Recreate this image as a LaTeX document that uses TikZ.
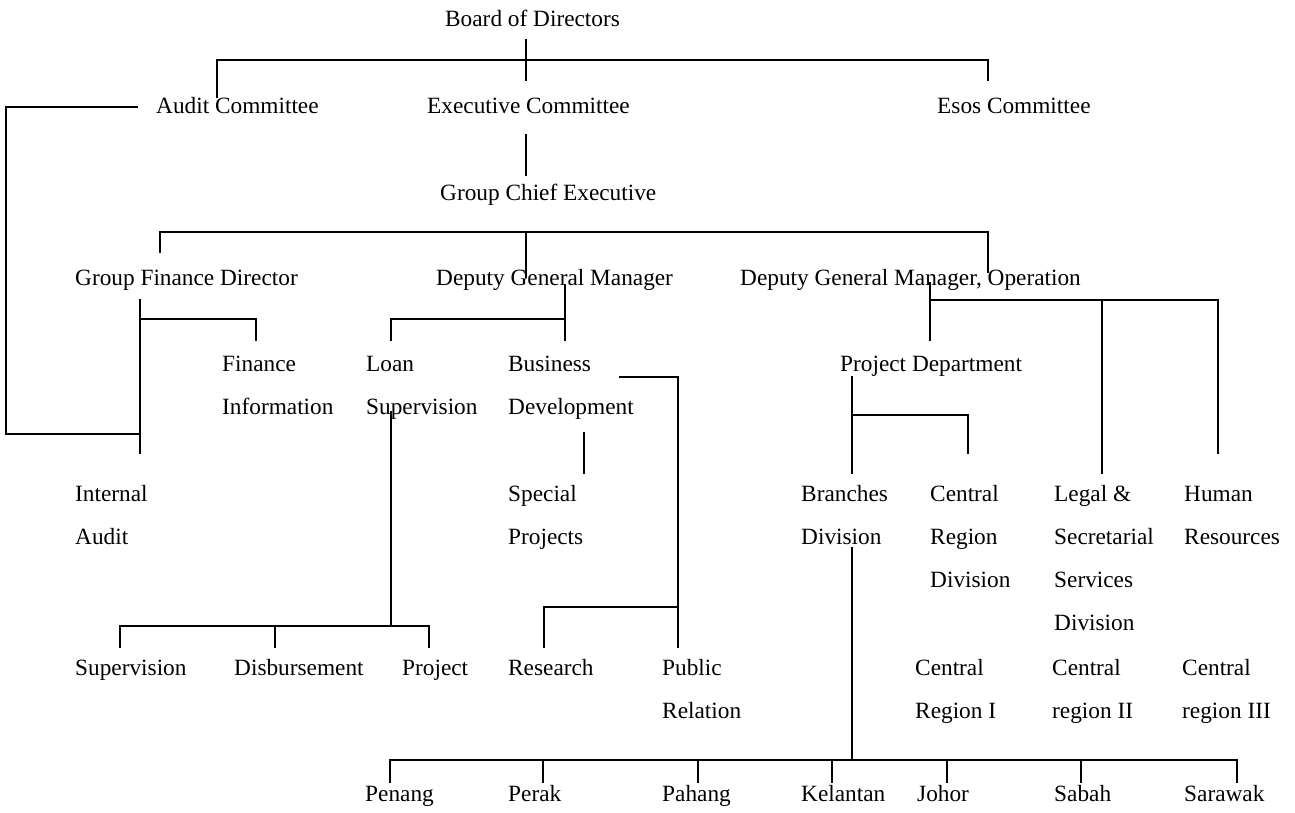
\documentclass[tikz,border=0pt]{standalone}
\usepackage{fontspec}
\setmainfont{Liberation Serif}
\begin{document}
\begin{tikzpicture}[x=1pt,y=-1pt,
  lbl/.style={anchor=base west, inner sep=0pt, align=left, font=\fontsize{23.3}{43}\selectfont},
  conn/.style={line width=2.8pt, line cap=rect}]
\useasboundingbox (0,0) rectangle (1295,812);
% ---- text nodes (base west = baseline of the last line) ----
\node[lbl] (board) at (445,26) {Board of Directors};
\node[lbl] (audit) at (156,113) {Audit Committee};
\node[lbl] (exec) at (427,113) {Executive Committee};
\node[lbl] (esos) at (937,113) {Esos Committee};
\node[lbl] (gce) at (440,200) {Group Chief Executive};
\node[lbl] (gfd) at (75,285) {Group Finance Director};
\node[lbl] (dgm) at (436,285) {Deputy General Manager};
\node[lbl] (dgmo) at (740,285) {Deputy General Manager, Operation};
\node[lbl] (fin) at (222,414) {Finance\\Information};
\node[lbl] (loan) at (366,414) {Loan\\Supervision};
\node[lbl] (bus) at (508,414) {Business\\Development};
\node[lbl] (pd) at (840,371) {Project Department};
\node[lbl] (ia) at (75,544) {Internal\\Audit};
\node[lbl] (sp) at (508,544) {Special\\Projects};
\node[lbl] (br) at (801,544) {Branches\\Division};
\node[lbl] (crd) at (930,587) {Central\\Region\\Division};
\node[lbl] (legal) at (1054,630) {Legal \&\\Secretarial\\Services\\Division};
\node[lbl] (hr) at (1184,544) {Human\\Resources};
\node[lbl] (sup) at (75,675) {Supervision};
\node[lbl] (dis) at (234,675) {Disbursement};
\node[lbl] (proj) at (402,675) {Project};
\node[lbl] (res) at (508,675) {Research};
\node[lbl] (pr) at (662,718) {Public\\Relation};
\node[lbl] (cr1) at (915,718) {Central\\Region I};
\node[lbl] (cr2) at (1052,718) {Central\\region II};
\node[lbl] (cr3) at (1182,718) {Central\\region III};
\node[lbl] (pen) at (365,801) {Penang};
\node[lbl] (per) at (508,801) {Perak};
\node[lbl] (pah) at (662,801) {Pahang};
\node[lbl] (kel) at (801,801) {Kelantan};
\node[lbl] (joh) at (917,801) {Johor};
\node[lbl] (sab) at (1054,801) {Sabah};
\node[lbl] (sar) at (1184,801) {Sarawak};
% ---- connector points ----
\coordinate (b1) at (526,40); \coordinate (b2) at (526,80);
\coordinate (t1) at (217,97); \coordinate (t2) at (217,60);
\coordinate (t3) at (988,60); \coordinate (t4) at (988,80);
\coordinate (a1) at (137,107); \coordinate (a2) at (6,107);
\coordinate (a3) at (6,434); \coordinate (a4) at (140,434);
\coordinate (g1) at (140,300); \coordinate (g2) at (140,453);
\coordinate (f1) at (140,319); \coordinate (f2) at (256,319); \coordinate (f3) at (256,340);
\coordinate (e1) at (526,135); \coordinate (e2) at (526,175);
\coordinate (s1) at (160,252); \coordinate (s2) at (160,232);
\coordinate (s3) at (988,232); \coordinate (s4) at (988,272);
\coordinate (s5) at (526,232); \coordinate (s6) at (526,277);
\coordinate (d1) at (565,285); \coordinate (d2) at (565,340);
\coordinate (d3) at (565,319); \coordinate (d4) at (391,319); \coordinate (d5) at (391,340);
\coordinate (o1) at (930,283); \coordinate (o2) at (930,340);
\coordinate (o3) at (930,300); \coordinate (o4) at (1218,300); \coordinate (o5) at (1218,453);
\coordinate (o6) at (1102,300); \coordinate (o7) at (1102,473);
\coordinate (p1) at (852,377); \coordinate (p2) at (852,473);
\coordinate (p3) at (852,415); \coordinate (p4) at (968,415); \coordinate (p5) at (968,453);
\coordinate (u1) at (620,377); \coordinate (u2) at (678,377); \coordinate (u3) at (678,647);
\coordinate (u4) at (678,607); \coordinate (u5) at (544,607); \coordinate (u6) at (544,647);
\coordinate (v1) at (584,433); \coordinate (v2) at (584,473);
\coordinate (l1) at (391,412); \coordinate (l2) at (391,626);
\coordinate (l3) at (120,647); \coordinate (l4) at (120,626);
\coordinate (l5) at (429,626); \coordinate (l6) at (429,647);
\coordinate (l7) at (275,626); \coordinate (l8) at (275,647);
\coordinate (r1) at (852,548); \coordinate (r2) at (852,760);
\coordinate (r3) at (390,782); \coordinate (r4) at (390,760);
\coordinate (r5) at (1237,760); \coordinate (r6) at (1237,782);
\foreach \x in {543,698,832,947,1081} {\coordinate (rd\x) at (\x,760); \coordinate (re\x) at (\x,782);}
% ---- connectors ----
\draw[conn] (b1) -- (b2);
\draw[conn] (t1) -- (t2) -- (t3) -- (t4);
\draw[conn] (a1) -- (a2) -- (a3) -- (a4);
\draw[conn] (g1) -- (g2);
\draw[conn] (f1) -- (f2) -- (f3);
\draw[conn] (e1) -- (e2);
\draw[conn] (s1) -- (s2) -- (s3) -- (s4);
\draw[conn] (s5) -- (s6);
\draw[conn] (d1) -- (d2);
\draw[conn] (d3) -- (d4) -- (d5);
\draw[conn] (o1) -- (o2);
\draw[conn] (o3) -- (o4) -- (o5);
\draw[conn] (o6) -- (o7);
\draw[conn] (p1) -- (p2);
\draw[conn] (p3) -- (p4) -- (p5);
\draw[conn] (u1) -- (u2) -- (u3);
\draw[conn] (u4) -- (u5) -- (u6);
\draw[conn] (v1) -- (v2);
\draw[conn] (l1) -- (l2);
\draw[conn] (l3) -- (l4) -- (l5) -- (l6);
\draw[conn] (l7) -- (l8);
\draw[conn] (r1) -- (r2);
\draw[conn] (r3) -- (r4) -- (r5) -- (r6);
\foreach \x in {543,698,832,947,1081} {\draw[conn] (rd\x) -- (re\x);}
\end{tikzpicture}
\end{document}
